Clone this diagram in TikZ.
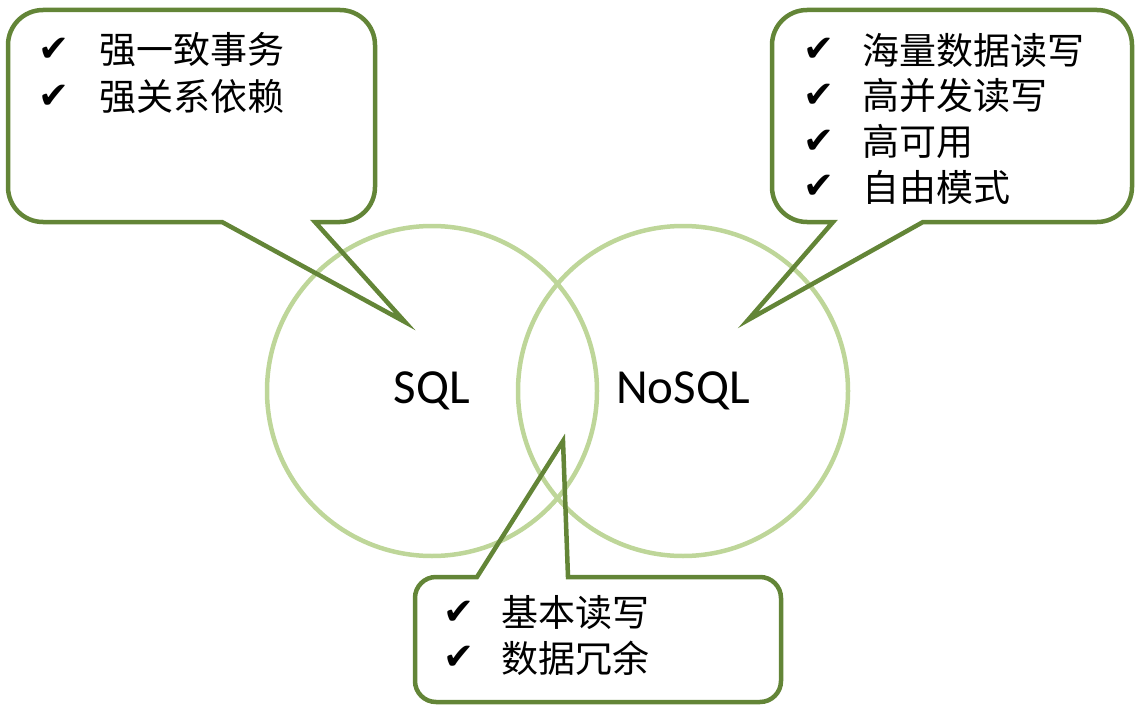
\documentclass[tikz,border=0pt]{standalone}
\usepackage{fontspec}
\setmainfont{Carlito}
\newfontfamily\cjkfont{Noto Sans CJK SC}
\newfontfamily\symbolfont{DejaVu Sans}
\usetikzlibrary{calc}

\definecolor{calloutgreen}{RGB}{99,133,55}
\definecolor{circlegreen}{RGB}{190,214,153}

\tikzset{
  venn/.style={circle, draw=circlegreen, line width=4.5pt, minimum size=330pt,
    inner sep=0pt, font=\fontsize{49}{56}\selectfont},
  bubble/.style={draw=calloutgreen, line width=4.5pt, line join=miter},
  checkmark/.style={anchor=west, inner sep=0pt, font=\symbolfont\fontsize{37}{40}\selectfont},
  itemtext/.style={anchor=west, inner sep=0pt, font=\cjkfont\fontsize{37}{40}\selectfont},
}

\begin{document}
\begin{tikzpicture}[x=1pt, y=-1pt]
        % Canvas
        \useasboundingbox (0,0) rectangle (1135,706);

        % Two overlapping circles
        \node[venn] (sql) at (432,391) {SQL};
        \node[venn] (nosql) at (683,391) {NoSQL};

        % Pointer tips
        \coordinate (sqltip) at (405,322);
        \coordinate (nosqltip) at (748,320);
        \coordinate (bothtip) at (563,441);

        % SQL callout
        \draw[bubble] (315,222) [rounded corners=35pt] -- (375,222) -- (375,10)
            -- (8,10) -- (8,222) [sharp corners] -- (222,222) -- (sqltip) -- cycle;

        % NoSQL callout
        \draw[bubble] (923,222) [rounded corners=35pt] -- (1132,222) -- (1132,10)
            -- (772,10) -- (772,222) [sharp corners] -- (833,222) -- (nosqltip) -- cycle;

        % Shared callout
        \draw[bubble] (477,577) [rounded corners=21pt] -- (415,577) -- (415,702)
            -- (781,702) -- (781,577) [sharp corners] -- (568,577) -- (bothtip) -- cycle;

        % SQL items
        \foreach \txt [count=\i] in {强一致事务, 强关系依赖} {
            \node[checkmark] (sqlchk\i) at (38,{3+47*\i}) {✔};
            \node[itemtext] (sqlitem\i) at (99,{3+47*\i}) {\txt};
        }

        % NoSQL items
        \foreach \txt [count=\i] in {海量数据读写, 高并发读写, 高可用, 自由模式} {
            \node[checkmark] (nosqlchk\i) at (803,{4.5+45.7*\i}) {✔};
            \node[itemtext] (nosqlitem\i) at (862,{4.5+45.7*\i}) {\txt};
        }

        % Shared items
        \foreach \txt [count=\i] in {基本读写, 数据冗余} {
            \node[checkmark] (bothchk\i) at (443,{568+45*\i}) {✔};
            \node[itemtext] (bothitem\i) at (501,{568+45*\i}) {\txt};
        }
    \end{tikzpicture}
\end{document}
